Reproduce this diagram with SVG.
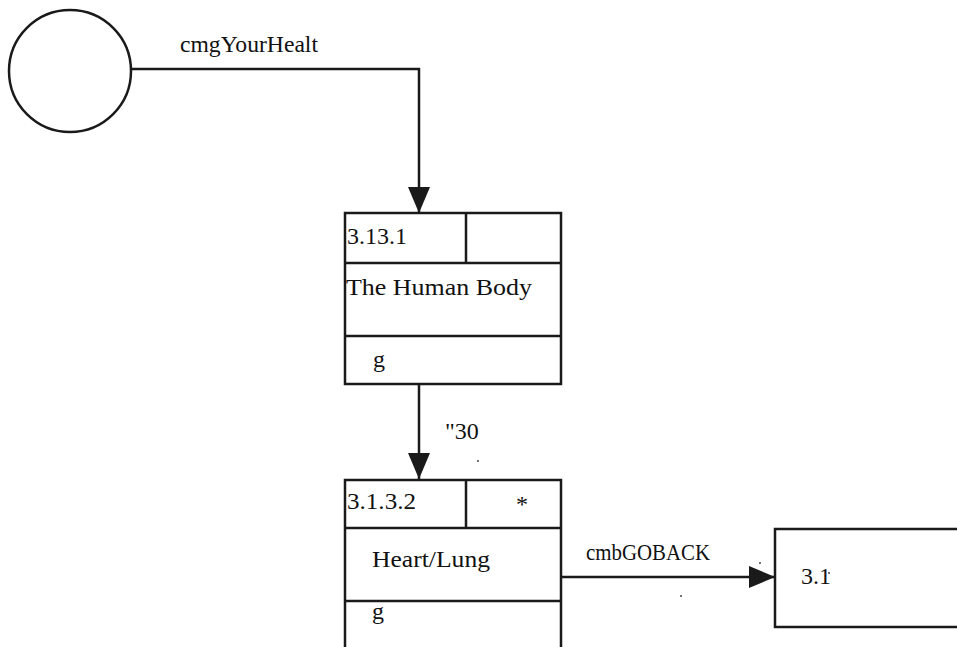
<svg xmlns="http://www.w3.org/2000/svg" width="957" height="647" viewBox="0 0 957 647">
<style>
.s{fill:none;stroke:#1a1a1a;stroke-width:2.5}
.b{fill:#fff;stroke:#1a1a1a;stroke-width:2.5}
.t{font-family:"Liberation Serif","Times New Roman",serif;font-size:24px;fill:#111}
.d{fill:#444}
</style>
<defs>
<marker id="ah" markerWidth="26" markerHeight="22" refX="26" refY="11" orient="auto" markerUnits="userSpaceOnUse">
<path d="M0,0 L26,11 L0,22 Z" fill="#1a1a1a"/>
</marker>
</defs>
<rect width="957" height="647" fill="#fff"/>
<g id="connectors">
<path class="s" d="M131,69 H419 V213" marker-end="url(#ah)"/>
<text class="t" x="180" y="52" textLength="138" lengthAdjust="spacingAndGlyphs">cmgYourHealt</text>
<path class="s" d="M419,384 V479" marker-end="url(#ah)"/>
<text class="t" x="445" y="439">"30</text>
<circle class="d" cx="478" cy="461" r="1"/>
<path class="s" d="M561,577 H775" marker-end="url(#ah)"/>
<text class="t" x="586" y="560" textLength="124" lengthAdjust="spacingAndGlyphs">cmbGOBACK</text>
<circle class="d" cx="681" cy="596" r="1"/>
<circle class="d" cx="760" cy="563" r="1"/>
</g>
<g id="start">
<circle class="s" cx="70" cy="71" r="61"/>
</g>
<g id="node-3131">
<rect class="b" x="345" y="213" width="216" height="171"/>
<path class="s" d="M466,213 V263 M345,263 H561 M345,336 H561"/>
<text class="t" x="347" y="244" textLength="60" lengthAdjust="spacingAndGlyphs">3.13.1</text>
<text class="t" x="346" y="295" textLength="186" lengthAdjust="spacingAndGlyphs">The Human Body</text>
<text class="t" x="373" y="367">g</text>
</g>
<g id="node-3132">
<rect class="b" x="345" y="480" width="216" height="180"/>
<path class="s" d="M466,480 V528 M345,528 H561 M345,601 H561"/>
<text class="t" x="347" y="509" textLength="69" lengthAdjust="spacingAndGlyphs">3.1.3.2</text>
<text class="t" x="516" y="512">*</text>
<text class="t" x="372" y="567" textLength="118" lengthAdjust="spacingAndGlyphs">Heart/Lung</text>
<text class="t" x="372" y="619">g</text>
</g>
<g id="node-31">
<rect class="b" x="775" y="529" width="200" height="98"/>
<text class="t" x="801" y="584">3.1</text>
<circle class="d" cx="829" cy="573" r="1"/>
</g>
</svg>
